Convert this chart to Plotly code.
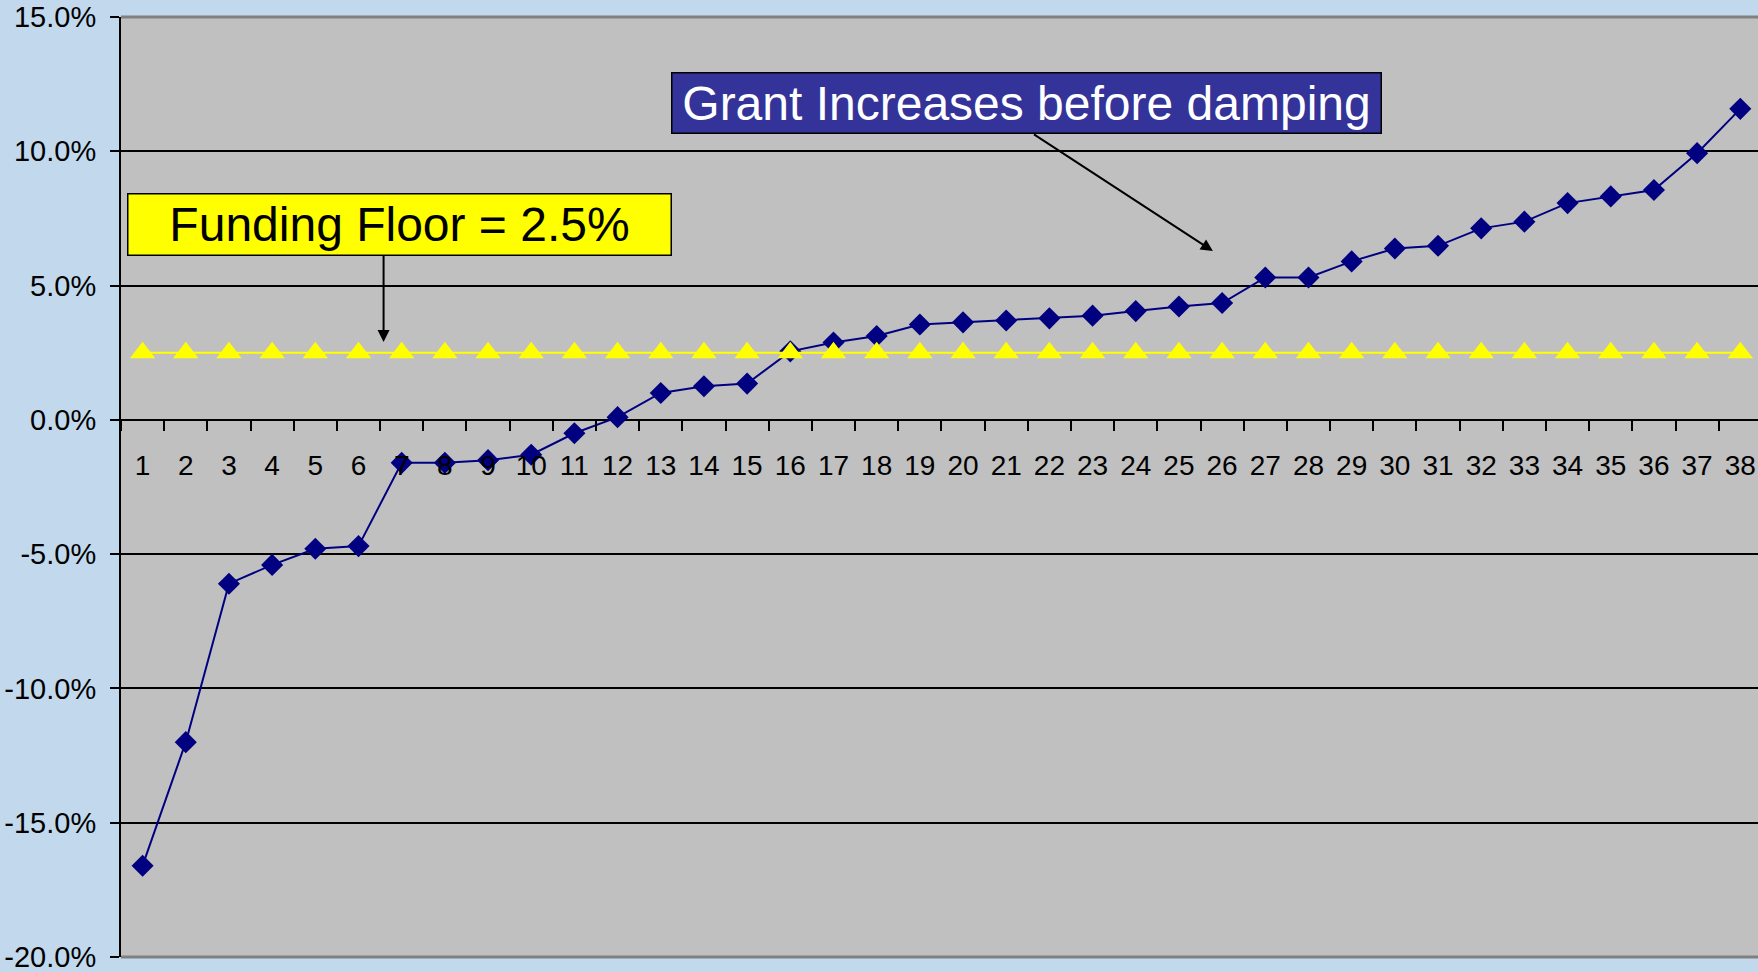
import plotly.graph_objects as go

# ranked areas 1..38
categories = [str(i) for i in range(1, 39)]
grant_increase = [-16.6, -12.0, -6.1, -5.4, -4.8, -4.7, -1.6, -1.6, -1.5, -1.3,
                  -0.5, 0.1, 1.0, 1.25, 1.35, 2.55, 2.88, 3.12, 3.55, 3.63,
                  3.7, 3.78, 3.88, 4.05, 4.22, 4.35, 5.3, 5.3, 5.9, 6.38,
                  6.48, 7.13, 7.38, 8.07, 8.32, 8.56, 9.93, 11.58]
funding_floor = [2.5] * 38

y_ticks = [-20, -15, -10, -5, 0, 5, 10, 15]
y_tick_text = [f"{v:.1f}%" for v in y_ticks]

FONT = "Liberation Sans, Arial, sans-serif"

fig = go.Figure()
fig.add_trace(go.Scatter(
    x=categories, y=grant_increase, mode="lines+markers",
    line=dict(color="#000080", width=2),
    marker=dict(symbol="diamond", size=17, color="#000080"),
    cliponaxis=False, showlegend=False,
))
fig.add_trace(go.Scatter(
    x=categories, y=funding_floor, mode="lines+markers",
    line=dict(color="#FFFF00", width=2),
    marker=dict(symbol="triangle-up", size=22, color="#FFFF00"),
    cliponaxis=False, showlegend=False,
))

fig.update_layout(
    width=1758, height=972,
    margin=dict(l=121, r=0, t=17, b=15, autoexpand=False),
    paper_bgcolor="#C2D9ED",
    plot_bgcolor="#C0C0C0",
    font=dict(family=FONT, size=29, color="black"),
    xaxis=dict(
        type="category", range=[-0.5, 37.41],
        anchor="free", position=20 / 35,
        showgrid=False, showline=False, zeroline=False,
        ticks="outside", tickson="boundaries", ticklen=10,
        tickwidth=2, tickcolor="black",
        ticklabelstandoff=26,
        tickfont=dict(size=28),
    ),
    yaxis=dict(
        range=[-20, 15], tickvals=y_ticks, ticktext=y_tick_text,
        showgrid=True, gridcolor="black", gridwidth=2,
        zeroline=True, zerolinecolor="black", zerolinewidth=2,
        showline=True, linecolor="black", linewidth=2,
        ticks="outside", ticklen=9, tickwidth=2, tickcolor="black",
        ticklabelstandoff=8, automargin=False,
        ticklabeloverflow="allow",
    ),
    shapes=[
        dict(type="line", xref="paper", yref="paper", x0=0, x1=1, y0=1, y1=1,
             line=dict(color="#808080", width=3)),
        dict(type="line", xref="paper", yref="paper", x0=0, x1=1, y0=0, y1=0,
             line=dict(color="#808080", width=3)),
    ],
)

# text boxes
fig.add_annotation(
    xref="paper", yref="paper", x=0.0035, y=0.813, xanchor="left", yanchor="top",
    text="Funding Floor = 2.5%", showarrow=False,
    font=dict(size=48, color="black"),
    bgcolor="#FFFF00", bordercolor="black", borderwidth=1.5, borderpad=1,
    width=540, height=58, align="center",
)
fig.add_annotation(
    xref="paper", yref="paper", x=0.3357, y=0.941, xanchor="left", yanchor="top",
    text="Grant Increases before damping", showarrow=False,
    font=dict(size=48, color="white"),
    bgcolor="#333399", bordercolor="black", borderwidth=1.5, borderpad=1,
    width=706, height=57, align="center",
)

# arrows
fig.add_annotation(
    xref="paper", yref="paper", x=0.1604, y=0.6543, text="",
    showarrow=True, ax=0, ay=-87.5, arrowhead=2, arrowsize=1.2,
    arrowwidth=2, arrowcolor="black", standoff=0,
)
fig.add_annotation(
    xref="paper", yref="paper", x=0.667, y=0.751, text="",
    showarrow=True, ax=-180.4, ay=-117.6, arrowhead=2, arrowsize=1.2,
    arrowwidth=2, arrowcolor="black", standoff=0,
)

fig.write_html("out.html",
               config={"displayModeBar": False},
               post_script="document.body.style.margin='0px';"
                           "document.body.style.overflow='hidden';")
